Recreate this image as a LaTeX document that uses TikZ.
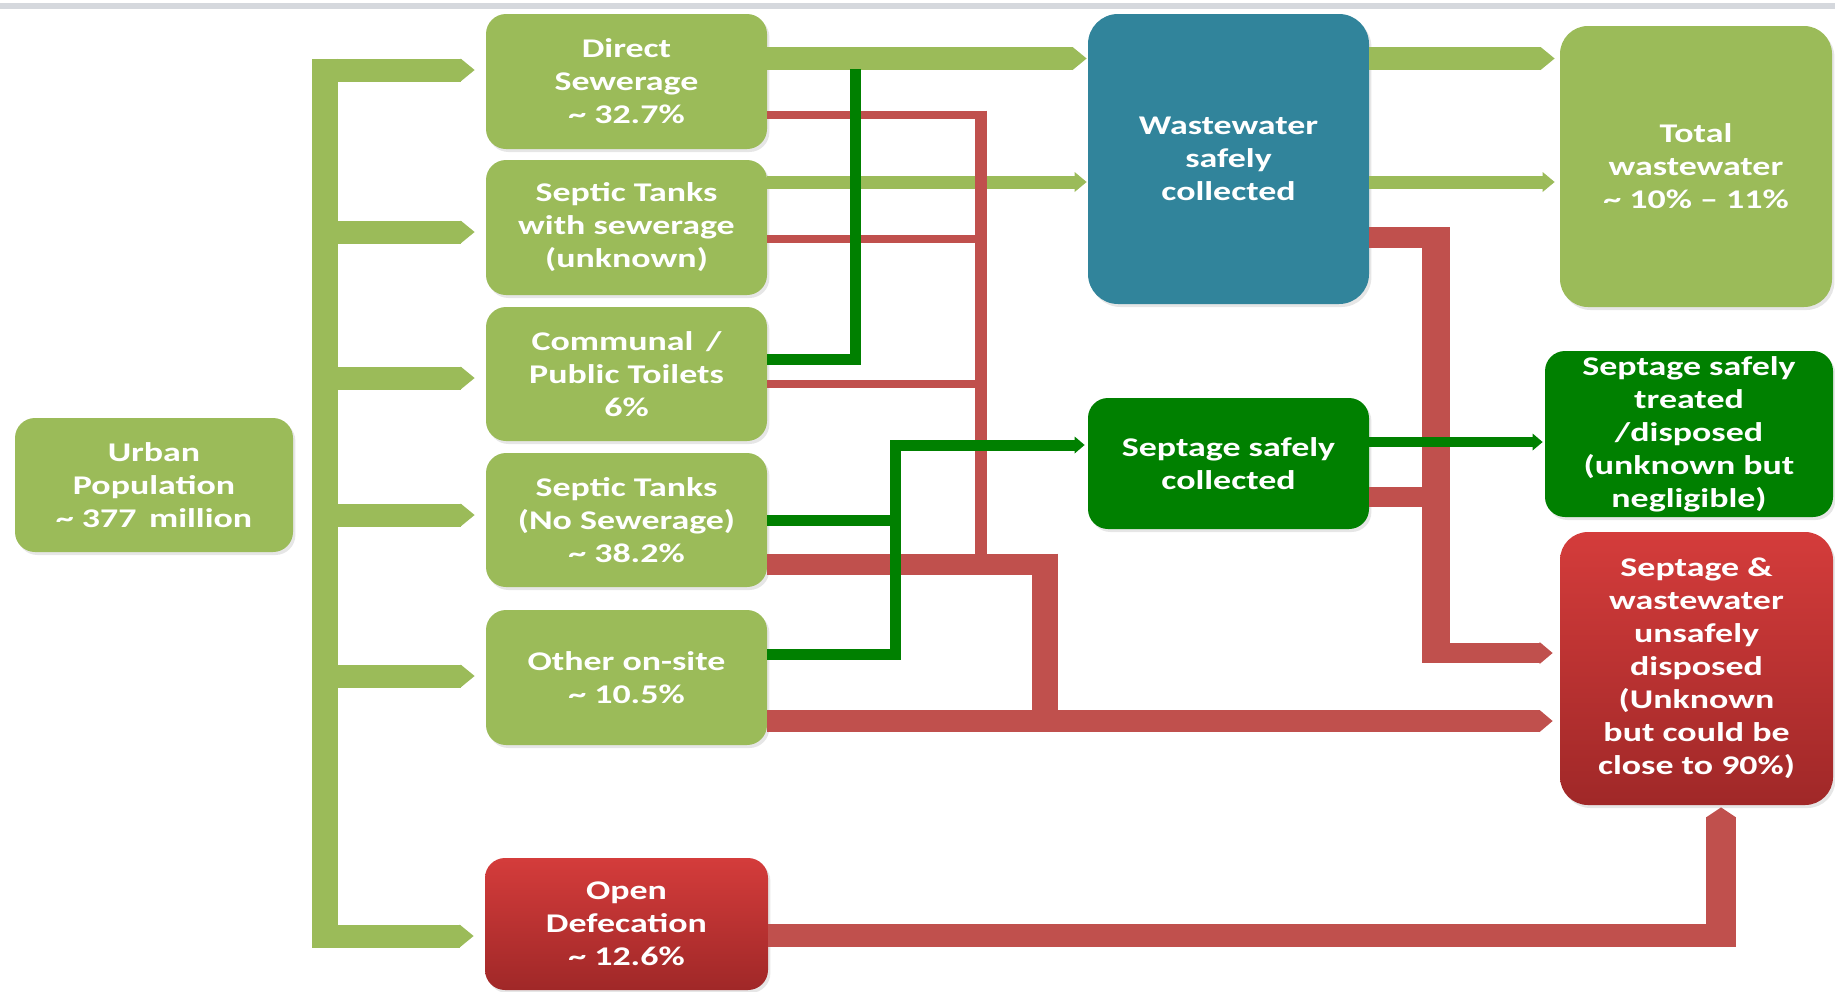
\documentclass[tikz,border=0pt]{standalone}
\usepackage{fontspec}
\setmainfont{Carlito}[FakeStretch=1.33]
\usetikzlibrary{arrows.meta,shadows}
\definecolor{lg}{HTML}{9BBB59}
\definecolor{dg}{HTML}{008000}
\definecolor{bl}{HTML}{31849B}
\definecolor{rd}{HTML}{C0504D}
\definecolor{rtop}{HTML}{D43C3B}
\definecolor{rbot}{HTML}{A02828}
\definecolor{topgray}{HTML}{D5D8DD}
\begin{document}
\begin{tikzpicture}[x=0.5pt,y=-0.5pt,
  box/.style={rounded corners=10pt, inner sep=0pt, align=center, text=white,
    font=\fontsize{13.5pt}{16.5pt}\selectfont\bfseries,
    drop shadow={shadow xshift=1.2pt,shadow yshift=-1.5pt,opacity=0.2}},
  lgbox/.style={box, fill=lg},
  blbox/.style={box, fill=bl, rounded corners=15pt},
  dgbox/.style={box, fill=dg},
  rdbox/.style={box, top color=rtop, bottom color=rbot},
  lgA/.style={draw=lg, line width=11.5pt, -{Triangle[length=7pt,width=11.5pt,line width=0pt]}},
  lgT/.style={draw=lg, line width=6.5pt, -{Triangle[length=6pt,width=10pt,line width=0pt]}},
  dgL/.style={draw=dg, line width=5.5pt},
  dgA/.style={draw=dg, line width=5.5pt, -{Triangle[length=5pt,width=8.5pt,line width=0pt]}},
  rdL/.style={draw=rd, line width=4pt},
  rdW/.style={draw=rd, line width=10.5pt},
  rdA/.style={draw=rd, line width=11pt, -{Triangle[length=6.5pt,width=11pt,line width=0pt]}},
]
\useasboundingbox (0,0) rectangle (1835,991);
\fill[topgray] (0,3) rectangle (1835,9);

% nodes
\node[lgbox, minimum width=139pt, minimum height=67pt] (up) at (154,485) {Urban\\Population\\\textasciitilde{} 377\, million};
\node[lgbox, minimum width=140.5pt, minimum height=67.5pt] (ds) at (626.5,81.5) {Direct\\Sewerage\\\textasciitilde{} 32.7\%};
\node[lgbox, minimum width=140.5pt, minimum height=67.5pt] (st) at (626.5,227.5) {Septic Tanks\\with sewerage\\(unknown)};
\node[lgbox, minimum width=140.5pt, minimum height=67pt] (ct) at (626.5,374) {Communal\, /\\Public Toilets\\6\%};
\node[lgbox, minimum width=140.5pt, minimum height=67pt] (sn) at (626.5,520) {Septic Tanks\\(No Sewerage)\\\textasciitilde{} 38.2\%};
\node[lgbox, minimum width=140.5pt, minimum height=67.5pt] (os) at (626.5,677.5) {Other on-site\\\textasciitilde{} 10.5\%};
\node[rdbox, minimum width=141.5pt, minimum height=66pt] (od) at (626.5,924) {Open\\Defecation\\\textasciitilde{} 12.6\%};
\node[blbox, minimum width=140.5pt, minimum height=145pt] (wc) at (1228.5,159) {Wastewater\\safely\\collected};
\node[lgbox, minimum width=136pt, minimum height=140.5pt, rounded corners=14pt] (tw) at (1696,166.5) {Total\\wastewater\\\textasciitilde{} 10\% -- 11\%};
\node[dgbox, minimum width=140.5pt, minimum height=65.5pt] (sc) at (1228.5,463.5) {Septage safely\\collected};
\node[dgbox, minimum width=144pt, minimum height=83pt] (tr) at (1689,434) {Septage safely\\treated\\/disposed\\(unknown but\\negligible)};
\node[rdbox, minimum width=136.5pt, minimum height=136.5pt, rounded corners=14pt] (un) at (1696.5,668.5) {Septage \&\\wastewater\\unsafely\\disposed\\(Unknown\\but could be\\close to 90\%)};

% light green connectors
\coordinate (bTop) at (325,58.5);
\coordinate (bBot) at (325,947.5);
\draw[lg, line width=13pt] (bTop) -- (bBot);
\foreach \n/\y in {ds/70, st/232, ct/378, sn/515, os/676, od/936} {
  \coordinate (b\n) at (312,\y);
  \draw[lgA, shorten >=5.5pt] (b\n) -- (b\n -| \n.west);
}
\coordinate (a1) at ([yshift=11.5pt]ds.east);
\draw[lgA, shorten >=0.5pt] (a1) -- (a1 -| wc.west);
\coordinate (a2) at ([yshift=22.75pt]st.east);
\draw[lgT, shorten >=0.5pt] (a2) -- (a2 -| wc.west);
\coordinate (a3) at ([yshift=50.25pt]wc.east);
\draw[lgA, shorten >=2.5pt] (a3) -- (a3 -| tw.west);
\coordinate (a4) at ([yshift=-11.5pt]wc.east);
\draw[lgT, shorten >=2.5pt] (a4) -- (a4 -| tw.west);

% red connectors
\coordinate (rT) at (987,0);
\coordinate (r1) at ([yshift=-16.5pt]ds.east);
\coordinate (r2) at ([yshift=-5.75pt]st.east);
\coordinate (r3) at ([yshift=-5pt]ct.east);
\draw[rdL] (r1) -- (r1 -| rT);
\draw[rdL] (r2) -- (r2 -| rT);
\draw[rdL] (r3) -- (r3 -| rT);
\coordinate (rV1) at (981,110.5);
\coordinate (rV2) at (981,556);
\draw[rd, line width=6pt] (rV1) -- (rV2);

\coordinate (s1) at ([yshift=-22pt]sn.east);
\coordinate (rX) at (1058,0);
\draw[rdW] (s1) -- (s1 -| rX);
\coordinate (sV1) at (1045,553.5);
\coordinate (sV2) at (1045,732);
\draw[rd, line width=13pt] (sV1) -- (sV2);
\coordinate (o2) at ([yshift=-21.75pt]os.east);
\draw[rdA, shorten >=3.5pt] (o2) -- (o2 -| un.west);

\coordinate (w1) at ([yshift=-39.25pt]wc.east);
\coordinate (wX) at (1450,0);
\draw[rdW] (w1) -- (w1 -| wX);
\coordinate (wV1) at (1436,227);
\coordinate (wV2) at (1436,663);
\draw[rd, line width=14pt] (wV1) -- (wV2);
\coordinate (c2) at ([yshift=-16.75pt]sc.east);
\draw[rd, line width=10pt] (c2) -- (c2 -| wX);
\coordinate (u1) at (1422,653);
\draw[rdA, line width=10pt, shorten >=3.5pt] (u1) -- (u1 -| un.west);

\coordinate (d1) at ([yshift=-5.5pt]od.east);
\coordinate (dX) at (1736,0);
\draw[rd, line width=11.5pt] (d1) -- (d1 -| dX);
\coordinate (d2) at (1721,946.5);
\draw[rd, line width=15pt, -{Triangle[length=5pt,width=15pt,line width=0pt]}, shorten >=1pt] (d2) -- (d2 |- un.south);

% dark green connectors
\coordinate (c1) at ([yshift=7.5pt]ct.east);
\coordinate (gJ) at (855,69);
\draw[dgL] (c1) -| (gJ);
\coordinate (o1) at ([yshift=11.75pt]os.east);
\coordinate (gT) at (895,445);
\coordinate (gR) at (900.5,445);
\draw[dgA, shorten >=1.5pt] (o1) -| (gT) -- (gT -| sc.west);
\draw[dgL] (sn.east) -- (sn.east -| gR);
\coordinate (e1) at ([yshift=10.75pt]sc.east);
\draw[dgA, line width=5pt, shorten >=1pt] (e1) -- (e1 -| tr.west);
\end{tikzpicture}
\end{document}
